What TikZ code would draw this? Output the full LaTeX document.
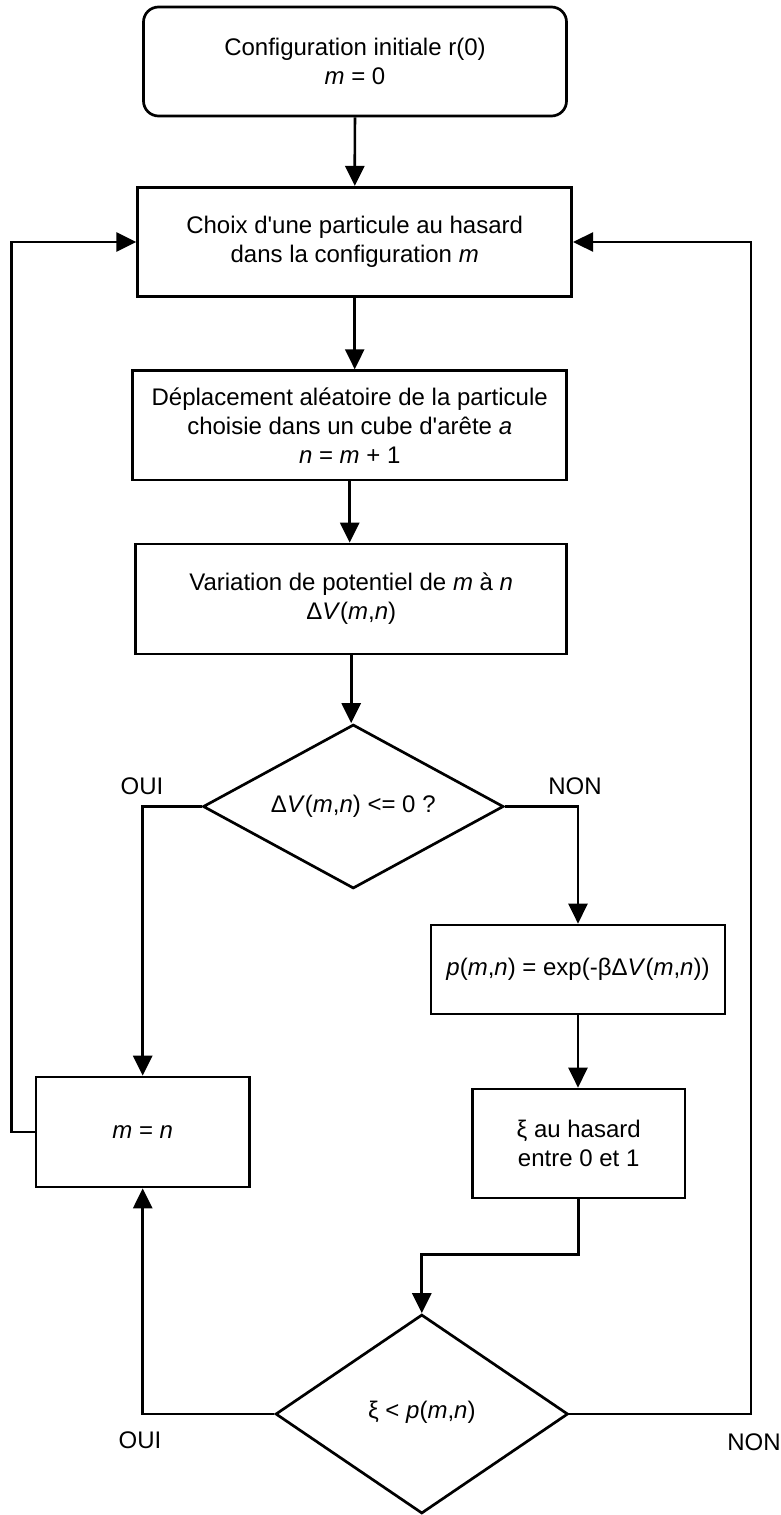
\documentclass[tikz,border=0pt]{standalone}
\usepackage{fontspec}
\setmainfont{Liberation Sans}
\usetikzlibrary{arrows.meta, shapes.geometric, calc}

\begin{document}
\begin{tikzpicture}[x=1pt, y=-1pt, line width=2.7pt,
		font=\fontsize{24}{29}\selectfont,
		etape/.style={draw, rectangle, align=center, inner sep=0pt},
		test/.style={draw, diamond, align=center, inner sep=0pt},
		fleche/.style={-{Triangle[length=20pt, width=19pt]}}]
			\useasboundingbox (0, 0) rectangle (780, 1515);
			\coordinate (Lloop) at (11.7, 242);
			\coordinate (Rloop) at (751, 242);
			
			\node[etape, rounded corners=15pt, minimum width=423, minimum height=109] (Init) at (355, 61.5) {Configuration initiale r(0)\\\textit{m} = 0};
			\node[etape, minimum width=434, minimum height=109.4] (Choix) at (354.7, 242) {Choix d\textquotesingle une particule au hasard\\dans la configuration \textit{m}};
			\node[etape, minimum width=434, minimum height=109.3] (Depl) at (349.7, 425.3) {Déplacement aléatoire de la particule\\choisie dans un cube d\textquotesingle arête \textit{a}\\\textit{n} = \textit{m} + 1};
			\node[etape, minimum width=431, minimum height=110] (Var) at (351.2, 599) {Variation de potentiel de \textit{m} à \textit{n}\\Δ\textit{V}(\textit{m},\textit{n})};
			\node[test, aspect=1.83, minimum width=300.6, minimum height=164] (TestV) at (353.3, 806.5) {\raisebox{4pt}{Δ\textit{V}(\textit{m},\textit{n}) <= 0 ?}};
			\node[etape, minimum width=294, minimum height=89] (Proba) at (578, 969.5) {\textit{p}(\textit{m},\textit{n}) = exp(-βΔ\textit{V}(\textit{m},\textit{n}))};
			\node[etape, minimum width=213.5, minimum height=110] (Accept) at (142.7, 1132) {\textit{m} = \textit{n}};
			\node[etape, minimum width=212.5, minimum height=109] (Tirage) at (578.7, 1143.5) {ξ au hasard\\entre 0 et 1};
			\node[test, aspect=1.46, minimum width=292.5, minimum height=199] (TestXi) at (421.8, 1414) {\raisebox{8pt}{ξ < \textit{p}(\textit{m},\textit{n})}};
			
			\node[] (OuiA) at (142, 786) {OUI};
			\node[] (NonA) at (575, 786) {NON};
			\node[] (OuiB) at (140, 1440) {OUI};
			\node[] (NonB) at (754, 1442) {NON};
			
			\draw[fleche] (Init) -- (Choix);
			\draw[fleche] (Choix.south) -- (Choix.south |- Depl.north);
			\draw[fleche] (Depl.south) -- (Depl.south |- Var.north);
			\draw[fleche] (Var.south) -- (Var.south |- TestV.north);
			\draw[fleche] (TestV.west) -| (Accept.north);
			\draw[fleche] (TestV.east) -| (Proba.north);
			\draw[fleche] (Proba.south) -- (Proba.south |- Tirage.north);
			\draw[fleche] (Tirage.south) -- ++(0, 55) -| (TestXi.north);
			\draw[fleche] (TestXi.west) -| (Accept.south);
			\draw[fleche] (TestXi.east) -| (Rloop) -- (Choix.east);
			\draw[fleche] (Accept.west) -| (Lloop) -- (Choix.west);
		\end{tikzpicture}
\end{document}
